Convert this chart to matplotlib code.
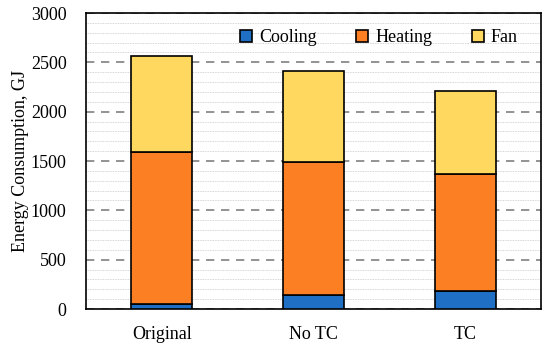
import matplotlib
matplotlib.use("Agg")
import matplotlib.pyplot as plt
import numpy as np

categories = ["Original", "No TC", "TC"]
cooling = [50, 145, 180]
heating = [1540, 1345, 1190]
fan = [970, 925, 840]

plt.rcParams['font.family'] = ['Liberation Serif', 'DejaVu Serif']

fig = plt.figure(figsize=(5.5, 3.48), dpi=100)
ax = fig.add_axes([86/550, 1-309/348, 455/550, 296/348])

x = np.arange(len(categories))
w = 0.4
c1, c2, c3 = "#1f6fc5", "#fd7f24", "#ffd95f"
b1 = np.array(cooling)
b2 = b1 + np.array(heating)
ax.bar(x, cooling, w, color=c1, edgecolor="black", linewidth=1.2, label="Cooling", zorder=3)
ax.bar(x, heating, w, bottom=b1, color=c2, edgecolor="black", linewidth=1.2, label="Heating", zorder=3)
ax.bar(x, fan, w, bottom=b2, color=c3, edgecolor="black", linewidth=1.2, label="Fan", zorder=3)

fs = 13
ax.set_xlim(-0.5, 2.5)
ax.set_ylim(0, 3000)
ax.set_yticks(np.arange(0, 3001, 500))
ax.set_yticks(np.arange(0, 3001, 100), minor=True)
ax.set_xticks(x)
ax.set_xticklabels(categories)
ax.tick_params(axis='both', which='both', length=0, labelsize=fs)
ax.tick_params(axis='y', pad=14)
ax.tick_params(axis='x', pad=12)
ax.grid(axis='y', which='minor', color='#c8c8c8', linestyle=(0, (1, 1)), linewidth=0.6, zorder=0)
ax.grid(axis='y', which='major', color='#808080', linestyle=(0, (5, 4)), linewidth=1.2, zorder=1)
for s in ax.spines.values():
    s.set_linewidth(1.2)
ax.set_ylabel("Energy Consumption, GJ", fontsize=fs, labelpad=1)

leg = ax.legend(ncol=3, loc='upper right', bbox_to_anchor=(0.985, 1.0), frameon=False,
                fontsize=fs, handlelength=0.65, handleheight=0.65, handletextpad=0.4,
                columnspacing=2.2)
fig.savefig("out.png", dpi=100)
